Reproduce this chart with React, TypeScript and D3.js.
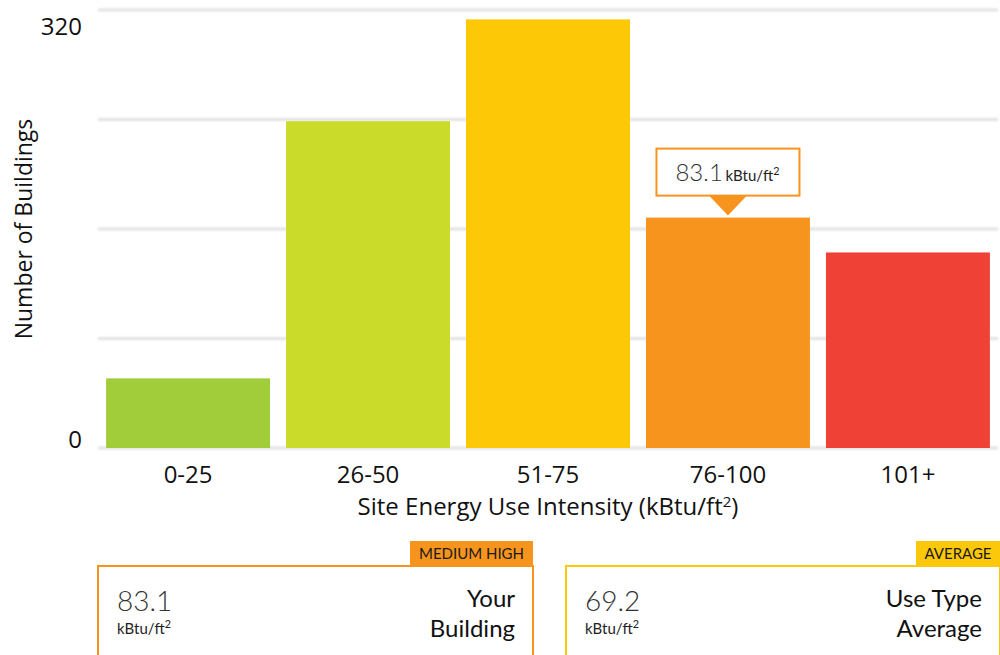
import React from 'react';
import * as d3 from 'd3';

const categories = ['0-25', '26-50', '51-75', '76-100', '101+'];
const buildingCounts = [52, 244, 320, 172, 146];
const barColors = ['#a2cd3a', '#cadb2a', '#fdc806', '#f7941e', '#ef4136'];
const yTickLabels = ['0', '320'];
const yTickValues = [0, 320];
const yMax = 327;

const yourValue = 83.1;
const yourCategory = '76-100';
const yourRating = 'MEDIUM HIGH';
const averageValue = 69.2;
const averageRating = 'AVERAGE';

const W = 1000;
const H = 655;
const plot = { left: 98, right: 998, top: 10, bottom: 448 };

const font = "'Open Sans', sans-serif";
const lato = "Lato, sans-serif";

const Unit: React.FC<{ x: number; y: number; size: number; anchor?: string }> = ({ x, y, size, anchor = 'start' }) => (
  <text x={x} y={y} fontFamily={lato} fontSize={size} fill="#222" textAnchor={anchor as any}>
    kBtu/ft<tspan fontSize={size * 0.72} dy={-size * 0.4}>2</tspan>
  </text>
);

const ScoreCard: React.FC<{
  x: number; width: number; color: string; badge: string; badgeWidth: number;
  value: number; line1: string; line2: string;
}> = ({ x, width, color, badge, badgeWidth, value, line1, line2 }) => {
  const top = 566;
  return (
    <g>
      <rect x={x + width - badgeWidth} y={top - 25} width={badgeWidth} height={25} fill={color} />
      <text x={x + width - badgeWidth / 2} y={top - 7} textAnchor="middle" fontFamily={lato} fontSize={15} fill="#1a1a1a">{badge}</text>
      <rect x={x} y={top} width={width} height={120} fill="#fff" stroke={color} strokeWidth={2} />
      <text x={x + 19} y={611} fontFamily={lato} fontWeight={300} fontSize={28} fill="#333">{value.toFixed(1)}</text>
      <Unit x={x + 19} y={634} size={15} />
      <text x={x + width - 18} y={607} textAnchor="end" fontFamily={lato} fontSize={24} fill="#111">{line1}</text>
      <text x={x + width - 18} y={637} textAnchor="end" fontFamily={lato} fontSize={24} fill="#111">{line2}</text>
    </g>
  );
};

export default function App() {
  const x = d3.scaleBand<string>()
    .domain(categories)
    .range([plot.left, plot.right])
    .paddingInner(0.089)
    .paddingOuter(0.045);

  const y = d3.scaleLinear().domain([0, yMax]).range([plot.bottom, plot.top]);
  const grid = d3.range(0, 5).map(i => (yMax * i) / 4);

  const tipX = (x(yourCategory) ?? 0) + x.bandwidth() / 2;
  const tipBarTop = y(buildingCounts[categories.indexOf(yourCategory)]);
  const tipW = 143;
  const tipBottom = tipBarTop - 22;

  return (
    <svg width={W} height={H} style={{ position: 'absolute', left: 0, top: 0, background: '#fff' }}>
      <defs>
        <filter id="soft" x="-1%" y="-200%" width="102%" height="500%">
          <feGaussianBlur stdDeviation="1" />
        </filter>
      </defs>
      <g filter="url(#soft)">
        {grid.map((g, i) => (
          <line key={i} x1={plot.left} x2={plot.right} y1={y(g)} y2={y(g)} stroke="#e2e2e2" strokeWidth={3} />
        ))}
      </g>
      {categories.map((c, i) => (
        <rect key={c} x={x(c)} y={y(buildingCounts[i])} width={x.bandwidth()}
          height={y(0) - y(buildingCounts[i])} fill={barColors[i]} />
      ))}
      {yTickValues.map((v, i) => (
        <text key={v} x={82} y={i === 0 ? y(v) : 35} textAnchor="end" fontFamily={font} fontSize={24} fill="#111">{yTickLabels[i]}</text>
      ))}
      {categories.map(c => (
        <text key={c} x={(x(c) ?? 0) + x.bandwidth() / 2} y={483} textAnchor="middle" fontFamily={font} fontSize={24} fill="#111">{c}</text>
      ))}
      <text x={(plot.left + plot.right) / 2} y={515} textAnchor="middle" fontFamily={font} fontSize={24} fill="#111">
        Site Energy Use Intensity (kBtu/ft<tspan fontSize={15} dy={-8}>2</tspan><tspan dy={8}>)</tspan>
      </text>
      <text transform={`translate(32, ${(plot.top + plot.bottom) / 2}) rotate(-90)`} textAnchor="middle"
        fontFamily={font} fontSize={23} fill="#111">Number of Buildings</text>

      {/* callout above your bar */}
      <g>
        <path d={`M${tipX - 19},${tipBottom} L${tipX + 19},${tipBottom} L${tipX},${tipBarTop - 2} Z`} fill="#f7941e" />
        <rect x={tipX - tipW / 2} y={tipBottom - 47} width={tipW} height={47} fill="#fff" stroke="#f7941e" strokeWidth={2} />
        <text x={tipX - tipW / 2 + 19} y={tipBottom - 15} fontFamily={lato} fontWeight={300} fontSize={24} fill="#333">{yourValue.toFixed(1)}</text>
        <Unit x={tipX - tipW / 2 + 69} y={tipBottom - 15} size={15} />
      </g>

      <ScoreCard x={98} width={435} color="#f7941e" badge={yourRating} badgeWidth={123}
        value={yourValue} line1="Your" line2="Building" />
      <ScoreCard x={566} width={434} color="#fcc80b" badge={averageRating} badgeWidth={84}
        value={averageValue} line1="Use Type" line2="Average" />
    </svg>
  );
}
